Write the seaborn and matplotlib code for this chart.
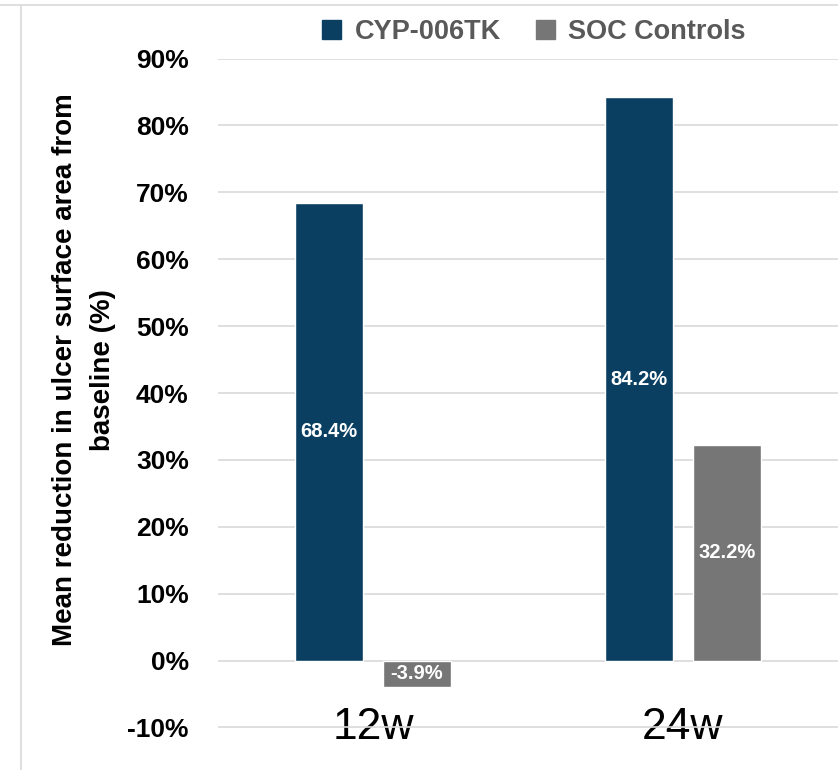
import pandas as pd
import matplotlib.pyplot as plt
import seaborn as sns
from matplotlib.lines import Line2D
from matplotlib.ticker import FuncFormatter

# Datos del gráfico
periods = ["12w", "24w"]
groups = ["CYP-006TK", "SOC Controls"]
cyp_values = [0.684, 0.842]
soc_values = [-0.039, 0.322]
y_ticks = [-0.1, 0.0, 0.1, 0.2, 0.3, 0.4, 0.5, 0.6, 0.7, 0.8, 0.9]

colors = {"CYP-006TK": "#0B3F62", "SOC Controls": "#767676"}

df = pd.DataFrame({
    "period": periods * 2,
    "group": [groups[0]] * 2 + [groups[1]] * 2,
    "value": cyp_values + soc_values,
})

sns.set_style("white")
plt.rcParams["font.family"] = ["Liberation Sans", "DejaVu Sans"]

fig = plt.figure(figsize=(8.38, 7.70), dpi=100)
ax = fig.add_axes([218 / 838, 1 - 727.5 / 770, 1 - 218 / 838, (727.5 - 58.6) / 770])

sns.barplot(data=df, x="period", y="value", hue="group", order=periods,
            hue_order=groups, palette=colors, width=0.568, gap=0.22,
            saturation=1, legend=False, ax=ax)

for cont in ax.containers:
    ax.bar_label(cont, labels=[f"{v * 100:.1f}%" for v in cont.datavalues],
                 label_type="center", color="white", fontweight="bold",
                 fontsize=14.5)

ax.set_ylim(-0.1, 0.9)
ax.set_xlim(-0.5, 1.5)
ax.set_yticks(y_ticks)
ax.yaxis.set_major_formatter(FuncFormatter(lambda v, p: f"{v * 100:.0f}%"))
ax.grid(axis="y", color="#d9d9d9", linewidth=1.2)
ax.set_axisbelow(True)
sns.despine(ax=ax, left=True, bottom=True)
ax.tick_params(axis="y", length=0, pad=21, labelsize=19, labelcolor="black")
for lab in ax.get_yticklabels():
    lab.set_fontweight("bold")
ax.tick_params(axis="x", length=0, pad=0, labelsize=32, labelcolor="black")
for lab in ax.get_xticklabels():
    lab.set_verticalalignment("center")
ax.set_xlabel("")
ax.set_ylabel("")

# Título del eje Y (dos líneas)
fig.text(65 / 838, 1 - 370 / 770, "Mean reduction in ulcer surface area from",
         rotation=90, ha="center", va="center", fontsize=20,
         fontweight="bold", color="black")
fig.text(103 / 838, 1 - 370 / 770, "baseline (%)",
         rotation=90, ha="center", va="center", fontsize=20,
         fontweight="bold", color="black")

# Leyenda
handles = [plt.Rectangle((0, 0), 1, 1, color=colors[g]) for g in groups]
leg = fig.legend(handles, groups, loc="center", bbox_to_anchor=(534 / 838, 1 - 32 / 770),
                 ncol=2, frameon=False, handlelength=0.7, handleheight=0.7,
                 handletextpad=0.5, columnspacing=1.3,
                 prop={"weight": "bold", "size": 19.5})
for t in leg.get_texts():
    t.set_color("#595959")

# Borde del gráfico
fig.add_artist(Line2D([0, 1], [1 - 5 / 770, 1 - 5 / 770], color="#d9d9d9", linewidth=1.2))
fig.add_artist(Line2D([21 / 838, 21 / 838], [0, 1 - 5 / 770], color="#d9d9d9", linewidth=1.2))

fig.savefig("out.png", dpi=100)
